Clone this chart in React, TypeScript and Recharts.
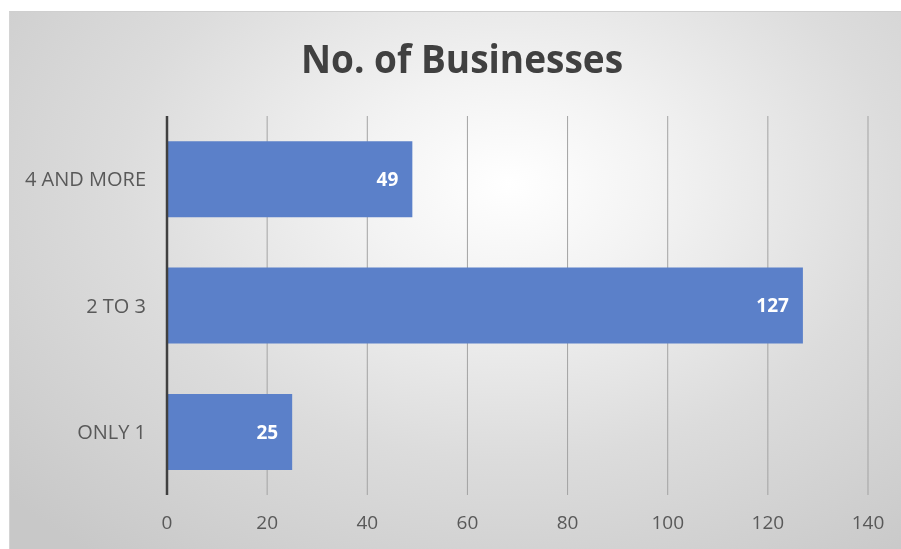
import React from "react";
import { BarChart, Bar, XAxis, YAxis, CartesianGrid, LabelList } from "recharts";

const categories = ["4 AND MORE", "2 TO 3", "ONLY 1"];
const businesses = [49, 127, 25];
const xTicks = [0, 20, 40, 60, 80, 100, 120, 140];
const title = "No. of Businesses";

const data = categories.map((c, i) => ({ name: c, value: businesses[i] }));

const FONT = "'Open Sans', 'Noto Sans', sans-serif";

export default function App() {
  return (
    <div
      style={{
        position: "fixed",
        left: 9,
        top: 11,
        width: 892,
        height: 538,
        borderTop: "1px solid #cfcfcf",
        borderLeft: "1px solid #d4d4d4",
        boxSizing: "border-box",
        background:
          "radial-gradient(ellipse 75% 88% at 56% 32%, #ffffff 0%, #f3f3f3 22%, #dcdcdc 58%, #c8c8c8 100%)",
        fontFamily: FONT,
        overflow: "hidden",
      }}
    >
      <div
        style={{
          position: "absolute",
          left: 0,
          width: 904,
          top: 28,
          textAlign: "center",
          fontSize: 37,
          lineHeight: "37px",
          fontWeight: 700,
          color: "#404040",
          fontFamily: FONT,
          transform: "scaleY(1.08)",
          transformOrigin: "50% 90%",
        }}
      >
        {title}
      </div>
      <div style={{ position: "absolute", left: -1, top: -1 }}>
        <BarChart
          width={892}
          height={538}
          data={data}
          layout="vertical"
          barCategoryGap="20%"
          margin={{ top: 105, right: 33, bottom: 24, left: 18 }}
        >
          <CartesianGrid horizontal={false} vertical={true} stroke="#a3a3a3" strokeWidth={1} />
          <XAxis
            type="number"
            domain={[0, 140]}
            ticks={xTicks}
            interval={0}
            axisLine={false}
            tickLine={false}
            tickSize={0}
            tickMargin={21}
            height={30}
            tick={{ fill: "#595959", fontSize: 19, fontFamily: FONT }}
          />
          <YAxis
            type="category"
            dataKey="name"
            width={140}
            axisLine={{ stroke: "#404040", strokeWidth: 2.5 }}
            tickLine={false}
            tickSize={0}
            tickMargin={21}
            tick={{ fill: "#595959", fontSize: 20, fontFamily: FONT }}
          />
          <Bar dataKey="value" fill="#5b80c9" isAnimationActive={false}>
            <LabelList
              dataKey="value"
              position="insideRight"
              offset={14}
              fill="#ffffff"
              fontSize={19}
              fontWeight={700}
              fontFamily={FONT}
            />
          </Bar>
        </BarChart>
      </div>
    </div>
  );
}
